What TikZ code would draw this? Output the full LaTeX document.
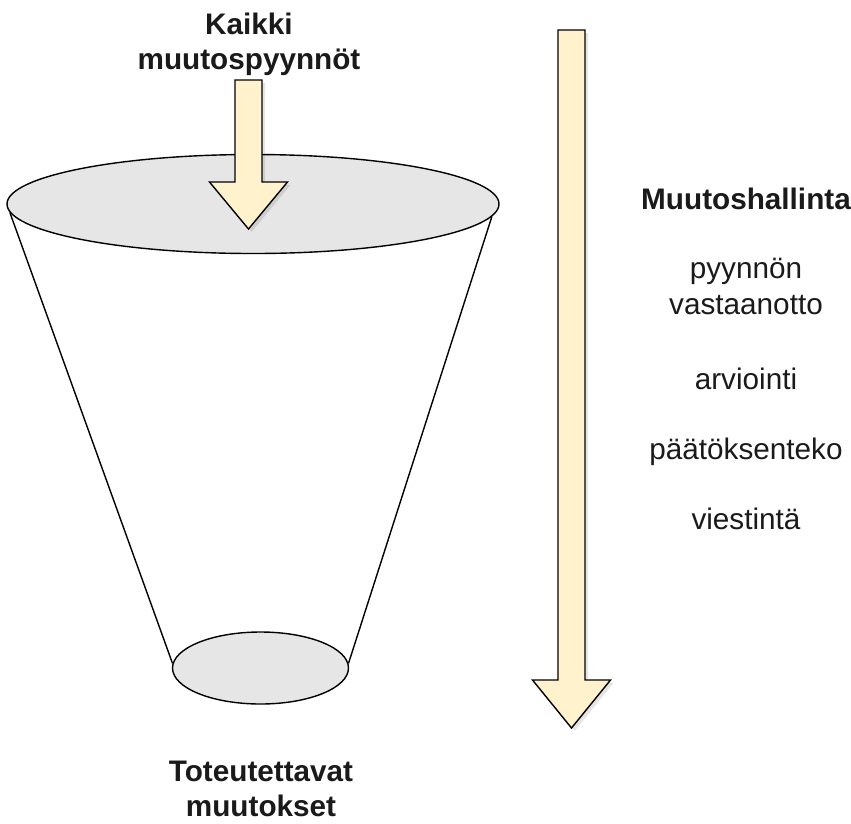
\documentclass[tikz,border=0pt]{standalone}
\usepackage{fontspec}
\setmainfont{Liberation Sans}
\usetikzlibrary{shapes.geometric}
\definecolor{ellfill}{HTML}{E6E6E6}
\definecolor{arrfill}{HTML}{FFF2CC}
\definecolor{txt}{HTML}{1A1A1A}
\begin{document}
\begin{tikzpicture}[x=1pt,y=-1pt,
  disc/.style={ellipse, draw=black, line width=1.4pt, fill=ellfill, inner sep=0pt},
  bigarrow/.style={draw=black, line width=1.4pt, fill=arrfill, line join=miter},
  arrshadow/.style={fill=black, opacity=0.10},
  cone/.style={draw=black, line width=1.4pt},
  lbl/.style={align=center, text=txt, inner sep=0pt, font=\fontsize{29.7}{35.5}\selectfont},
  hdr/.style={align=center, text=txt, inner sep=0pt, font=\bfseries\fontsize{29.7}{35}\selectfont}]
\useasboundingbox (0,0) rectangle (851,823);
% funnel
\node[disc, minimum width=492pt, minimum height=99pt] (top) at (253,204) {};
\node[disc, minimum width=176pt, minimum height=72pt] (bot) at (260.5,668) {};
\draw[cone] (top.182.5) -- (bot.177);
\draw[cone] (top.357.5) -- (bot.3);
% small arrow (all requests)
\coordinate (sa) at (248.5,80);
\fill[arrshadow] ([shift={(3,3)}]sa) ++(-13.5,0) -- ++(27,0) -- ++(0,102) -- ++(25.5,0) -- ++(-39,47) -- ++(-39,-47) -- ++(25.5,0) -- cycle;
\draw[bigarrow] (sa) ++(-13.5,0) -- ++(27,0) -- ++(0,102) -- ++(25.5,0) -- ++(-39,47) -- ++(-39,-47) -- ++(25.5,0) -- cycle;
% long arrow (change management)
\coordinate (la) at (571.5,30);
\fill[arrshadow] ([shift={(3,3)}]la) ++(-13.5,0) -- ++(27,0) -- ++(0,650) -- ++(25.5,0) -- ++(-39,48) -- ++(-39,-48) -- ++(25.5,0) -- cycle;
\draw[bigarrow] (la) ++(-13.5,0) -- ++(27,0) -- ++(0,650) -- ++(25.5,0) -- ++(-39,48) -- ++(-39,-48) -- ++(25.5,0) -- cycle;
% labels (base = baseline of the last line)
\node[hdr, anchor=base] (req) at (249,69) {Kaikki\\muutospyynnöt};
\node[hdr, anchor=base] (res) at (261,816) {Toteutettavat\\muutokset};
\node[hdr, anchor=base] (cm) at (746,209) {Muutoshallinta};
\node[lbl, anchor=base] (s1) at (746,314) {pyynnön\\vastaanotto};
\node[lbl, anchor=base] (s2) at (746,389) {arviointi};
\node[lbl, anchor=base] (s3) at (746,459) {päätöksenteko};
\node[lbl, anchor=base] (s4) at (746,529) {viestintä};
\end{tikzpicture}
\end{document}
